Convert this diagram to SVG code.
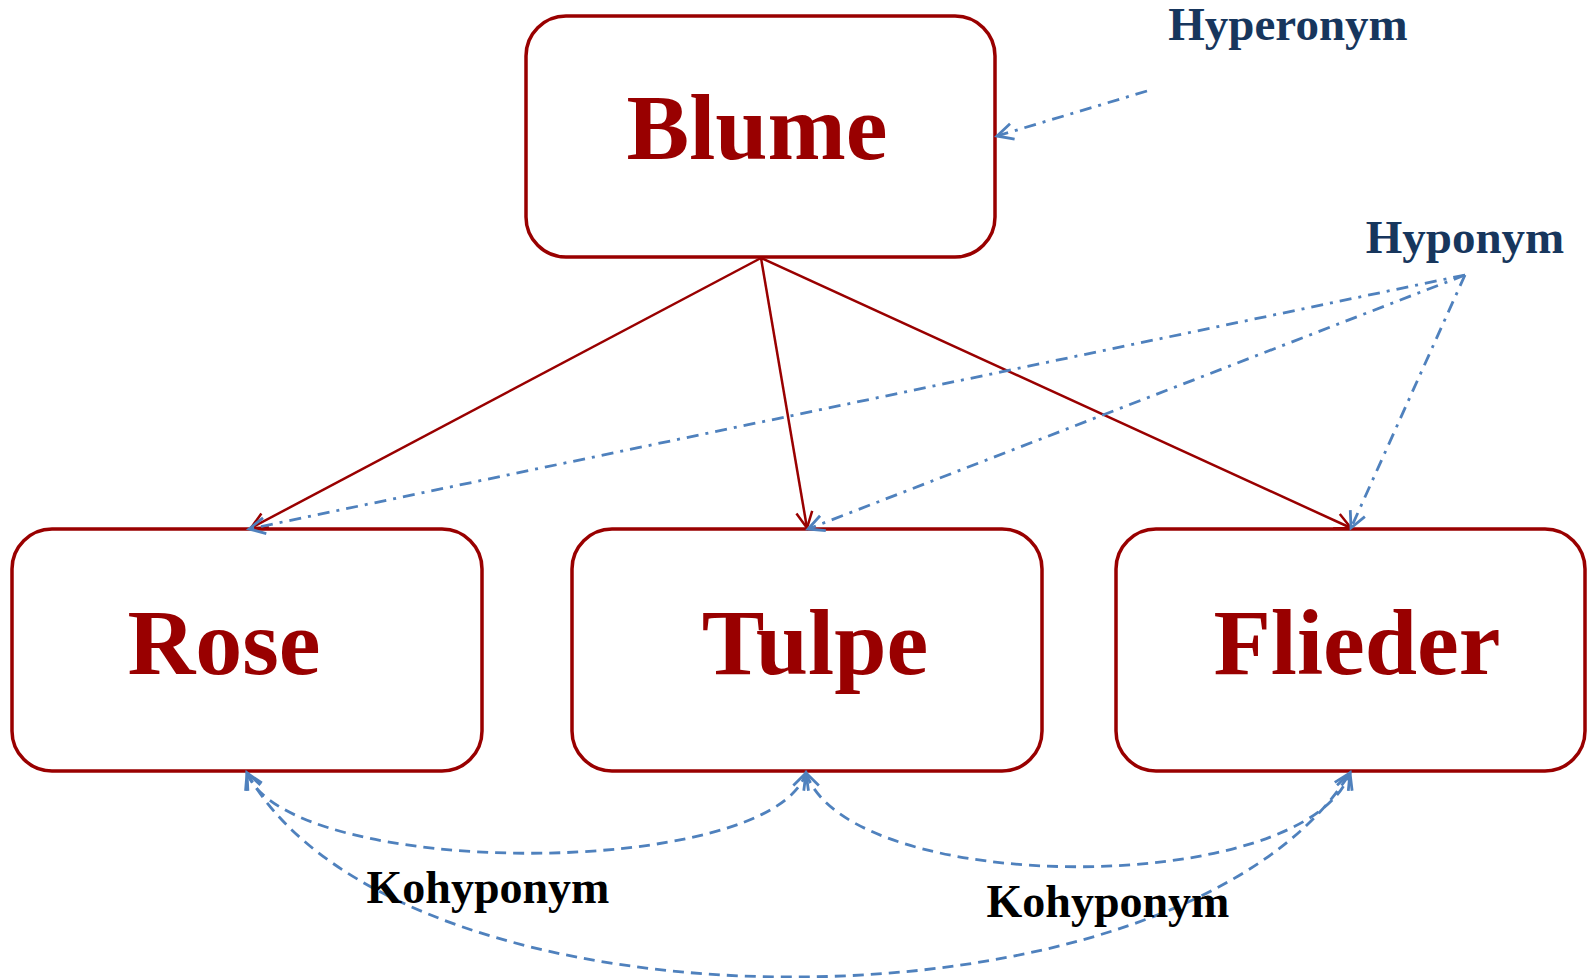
<svg xmlns="http://www.w3.org/2000/svg" width="1592" height="978" viewBox="0 0 1592 978">
<style>
.box{fill:#fff;stroke:#990000;stroke-width:3.5}
.lbl{font-family:"Liberation Serif",serif;font-weight:bold;font-size:94px;fill:#990000;text-anchor:middle}
.ann{font-family:"Liberation Serif",serif;font-weight:bold;font-size:47px;fill:#17365D;text-anchor:middle}
.koh{font-family:"Liberation Serif",serif;font-weight:bold;font-size:46px;fill:#000;text-anchor:middle}
.red{fill:none;stroke:#990000;stroke-width:2.5;marker-end:url(#ar)}
.dd{fill:none;stroke:#4F81BD;stroke-width:2.8;stroke-dasharray:12 7 3 7;marker-end:url(#ab)}
.dash{fill:none;stroke:#4F81BD;stroke-width:2.8;stroke-dasharray:11 7;marker-start:url(#ab);marker-end:url(#ab)}
</style>
<defs>
<marker id="ar" markerUnits="userSpaceOnUse" viewBox="-20 -12 24 24" refX="0" refY="0" markerWidth="24" markerHeight="24" orient="auto-start-reverse" overflow="visible">
<path d="M-16,-8 L0,0 L-16,8" fill="none" stroke="#990000" stroke-width="2.5" stroke-dasharray="none"/>
</marker>
<marker id="ab" markerUnits="userSpaceOnUse" viewBox="-20 -12 24 24" refX="0" refY="0" markerWidth="24" markerHeight="24" orient="auto-start-reverse" overflow="visible">
<path d="M-16,-8 L0,0 L-16,8" fill="none" stroke="#4F81BD" stroke-width="2.8" stroke-dasharray="none"/>
</marker>
</defs>
<g id="blume"><rect class="box" x="526" y="16" width="469" height="241" rx="40"/><text class="lbl" x="757" y="159">Blume</text></g>
<g id="rose"><rect class="box" x="12" y="529" width="470" height="242" rx="40"/><text class="lbl" x="224" y="674">Rose</text></g>
<g id="tulpe"><rect class="box" x="572" y="529" width="470" height="242" rx="40"/><text class="lbl" x="815" y="674">Tulpe</text></g>
<g id="flieder"><rect class="box" x="1116" y="529" width="469" height="242" rx="40"/><text class="lbl" x="1357" y="674">Flieder</text></g>
<g id="connectors">
<line class="red" x1="761" y1="258" x2="251" y2="528"/>
<line class="red" x1="761" y1="258" x2="807" y2="528"/>
<line class="red" x1="761" y1="258" x2="1351" y2="528"/>
<line class="dd" x1="1147" y1="91" x2="997" y2="136"/>
<line class="dd" x1="1465" y1="275" x2="249" y2="529"/>
<line class="dd" x1="1465" y1="275" x2="808" y2="529"/>
<line class="dd" x1="1465" y1="275" x2="1351" y2="528"/>
<path class="dash" d="M247,773 C290,880 770,880 806,773"/>
<path class="dash" d="M806,773 C850,898 1305,898 1350,773"/>
<path class="dash" d="M247,773 C400,1045 1180,1045 1350,773"/>
</g>
<g id="labels">
<text class="ann" x="1288" y="40">Hyperonym</text>
<text class="ann" x="1465" y="253">Hyponym</text>
<text class="koh" x="488" y="903">Kohyponym</text>
<text class="koh" x="1108" y="917">Kohyponym</text>
</g>
</svg>
